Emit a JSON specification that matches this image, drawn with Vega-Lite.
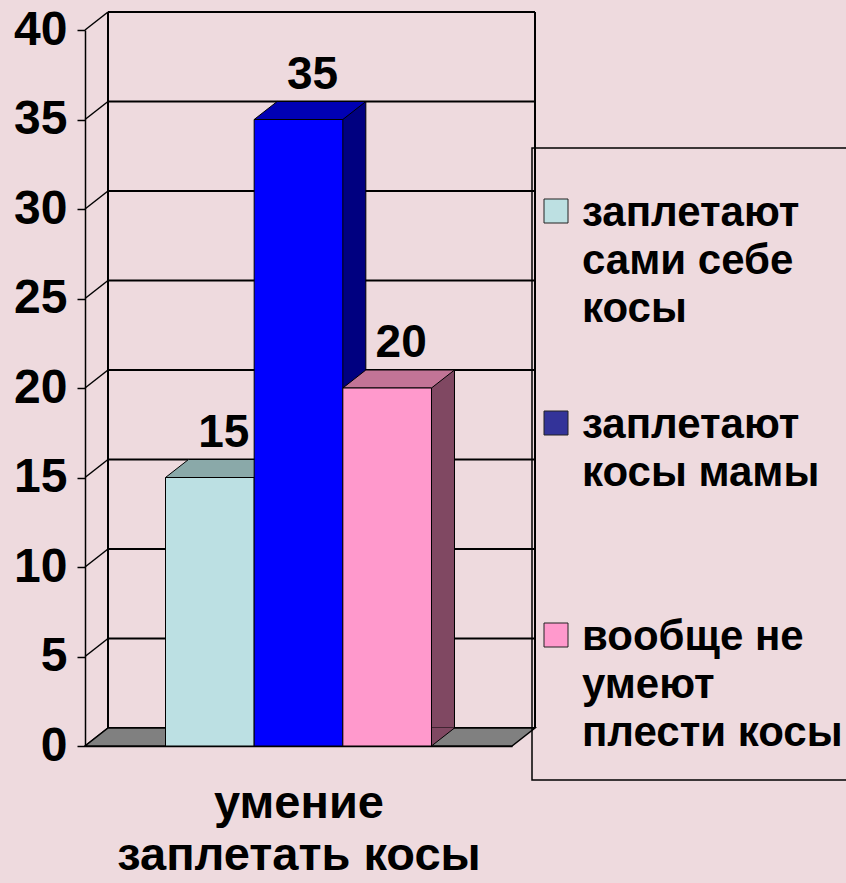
{
  "$schema": "https://vega.github.io/schema/vega-lite/v6.json",
  "width": 427,
  "height": 716,
  "autosize": {"type": "none"},
  "padding": {"left": 85, "top": 30, "right": 334, "bottom": 137},
  "background": "#eedade",
  "config": {
    "view": {"stroke": null},
    "font": "Liberation Sans",
    "axisY": {
      "domainColor": "black", "domainWidth": 1.5,
      "tickColor": "black", "tickSize": 8, "tickWidth": 1.5,
      "labelFont": "Liberation Sans", "labelFontSize": 48, "labelFontWeight": "bold",
      "labelColor": "black", "labelPadding": 10, "grid": false
    },
    "axisX": {
      "domainColor": "black", "domainWidth": 1.5,
      "ticks": false, "labels": false, "grid": false,
      "titleFont": "Liberation Sans", "titleFontSize": 47, "titleFontWeight": "bold",
      "titleColor": "black", "titleLineHeight": 52, "titlePadding": 34
    },
    "legend": {
      "orient": "none", "legendX": 447, "legendY": 118,
      "padding": 26, "strokeColor": "black", "strokeWidth": 1.5,
      "symbolType": "square", "symbolSize": 576, "symbolOffset": -23,
      "symbolStrokeColor": "#222222", "symbolStrokeWidth": 1,
      "labelFont": "Liberation Sans", "labelFontSize": 42, "labelFontWeight": "bold",
      "labelColor": "black", "labelLimit": 600, "labelOffset": 5,
      "labelBaseline": "alphabetic",
      "gridAlign": "all", "rowPadding": 72,
      "titleFontSize": 12, "titlePadding": 4
    }
  },
  "datasets": {
    "bars": [
      {"series": "заплетают сами себе косы", "value": 15},
      {"series": "заплетают косы мамы", "value": 35},
      {"series": "вообще не умеют плести косы", "value": 20}
    ],
    "ticks": [
      {"tick": 0}, {"tick": 5}, {"tick": 10}, {"tick": 15}, {"tick": 20},
      {"tick": 25}, {"tick": 30}, {"tick": 35}, {"tick": 40}
    ],
    "one": [{"item": "frame"}]
  },
  "resolve": {"scale": {"fill": "independent"}},
  "layer": [
    {
      "data": {"name": "bars"},
      "mark": {"type": "bar", "stroke": "black", "strokeWidth": 1},
      "encoding": {
        "x": {"field": "series", "type": "nominal", "sort": null},
        "y": {"datum": 0, "type": "quantitative"},
        "y2": {"datum": 0},
        "fill": {
          "field": "series", "type": "nominal", "sort": null,
          "scale": {
            "domain": ["заплетают сами себе косы", "заплетают косы мамы", "вообще не умеют плести косы"],
            "range": ["#bde0e2", "#333399", "#ff99cc"]
          },
          "legend": {
            "title": " ",
            "labelExpr": "datum.label == 'заплетают сами себе косы' ? ['заплетают', 'сами себе', 'косы'] : datum.label == 'заплетают косы мамы' ? ['заплетают', 'косы мамы'] : ['вообще не', 'умеют', 'плести косы']",
            "encode": {
              "labels": {"update": {"lineHeight": {"value": 48}, "dy": {"value": 15}}}
            }
          }
        }
      }
    },
    {
      "data": {"name": "ticks"},
      "mark": {"type": "rule", "color": "black", "strokeWidth": 2, "xOffset": 23, "x2Offset": 23, "yOffset": -18},
      "encoding": {
        "x": {"value": 0},
        "x2": {"value": "width"},
        "y": {"field": "tick", "type": "quantitative", "scale": {"domain": [0, 40], "nice": false}}
      }
    },
    {
      "data": {"name": "ticks"},
      "mark": {"type": "rule", "color": "black", "strokeWidth": 1.5, "x2Offset": 23, "y2Offset": -18},
      "encoding": {
        "x": {"value": 0},
        "x2": {"value": 0},
        "y": {"field": "tick", "type": "quantitative"},
        "y2": {"field": "tick"}
      }
    },
    {
      "data": {"name": "one"},
      "mark": {"type": "rule", "color": "black", "strokeWidth": 2, "xOffset": 23, "yOffset": -18, "y2Offset": -18},
      "encoding": {
        "x": {"value": 0},
        "y": {"datum": 0, "type": "quantitative"},
        "y2": {"datum": 40}
      }
    },
    {
      "data": {"name": "one"},
      "mark": {"type": "rule", "color": "black", "strokeWidth": 2, "xOffset": 23, "yOffset": -18, "y2Offset": -18},
      "encoding": {
        "x": {"value": "width"},
        "y": {"datum": 0, "type": "quantitative"},
        "y2": {"datum": 40}
      }
    },
    {
      "data": {"name": "one"},
      "mark": {
        "type": "point", "filled": true, "opacity": 1, "size": 40000,
        "shape": "M-2.135,0L2.135,0L2.365,-0.18L-1.905,-0.18Z",
        "fill": "#808080", "stroke": "black", "strokeWidth": 1.5
      },
      "encoding": {
        "y": {"datum": 0, "type": "quantitative"}
      }
    },
    {
      "data": {"name": "bars"},
      "mark": {"type": "bar", "stroke": "black", "strokeWidth": 1, "xOffset": 23, "x2Offset": 23, "yOffset": -18, "y2Offset": -18},
      "encoding": {
        "x": {"field": "series", "type": "nominal", "sort": null},
        "y": {"field": "value", "type": "quantitative"},
        "fill": {
          "field": "series", "type": "nominal", "sort": null, "legend": null,
          "scale": {
            "domain": ["заплетают сами себе косы", "заплетают косы мамы", "вообще не умеют плести косы"],
            "range": ["#6f8f90", "#000080", "#804862"]
          }
        }
      }
    },
    {
      "data": {"name": "bars"},
      "mark": {
        "type": "point", "filled": true, "opacity": 1, "size": 40000,
        "shape": "M0.4433,-0.18L0.4433,0L0.6733,-0.18",
        "stroke": "black", "strokeWidth": 1
      },
      "encoding": {
        "x": {"field": "series", "type": "nominal", "sort": null},
        "y": {"datum": 0, "type": "quantitative"},
        "fill": {
          "field": "series", "type": "nominal", "sort": null, "legend": null,
          "scale": {
            "domain": ["заплетают сами себе косы", "заплетают косы мамы", "вообще не умеют плести косы"],
            "range": ["#6f8f90", "#000080", "#804862"]
          }
        }
      }
    },
    {
      "data": {"name": "bars"},
      "mark": {
        "type": "point", "filled": true, "opacity": 1, "size": 40000,
        "shape": "M-0.4433,0L0.4433,0L0.6733,-0.18L-0.2133,-0.18Z",
        "stroke": "black", "strokeWidth": 1
      },
      "encoding": {
        "x": {"field": "series", "type": "nominal", "sort": null},
        "y": {"field": "value", "type": "quantitative"},
        "fill": {
          "field": "series", "type": "nominal", "sort": null, "legend": null,
          "scale": {
            "domain": ["заплетают сами себе косы", "заплетают косы мамы", "вообще не умеют плести косы"],
            "range": ["#8aa9a9", "#0000b4", "#c27496"]
          }
        }
      }
    },
    {
      "data": {"name": "bars"},
      "mark": {"type": "bar", "stroke": "black", "strokeWidth": 1},
      "encoding": {
        "x": {
          "field": "series", "type": "nominal", "sort": null,
          "scale": {"paddingInner": 0, "paddingOuter": 0.908},
          "axis": {"title": ["умение", "заплетать косы"]}
        },
        "y": {
          "field": "value", "type": "quantitative",
          "axis": {"title": null, "values": [0, 5, 10, 15, 20, 25, 30, 35, 40]}
        },
        "color": {
          "field": "series", "type": "nominal", "sort": null, "legend": null,
          "scale": {
            "domain": ["заплетают сами себе косы", "заплетают косы мамы", "вообще не умеют плести косы"],
            "range": ["#bce0e3", "#0000ff", "#ff99cc"]
          }
        }
      }
    },
    {
      "data": {"name": "bars"},
      "mark": {"type": "text", "dx": 14, "dy": -31, "baseline": "alphabetic", "align": "center", "fontSize": 46, "fontWeight": "bold", "font": "Liberation Sans", "color": "black"},
      "encoding": {
        "x": {"field": "series", "type": "nominal", "sort": null},
        "y": {"field": "value", "type": "quantitative"},
        "text": {"field": "value", "type": "quantitative"}
      }
    }
  ]
}
